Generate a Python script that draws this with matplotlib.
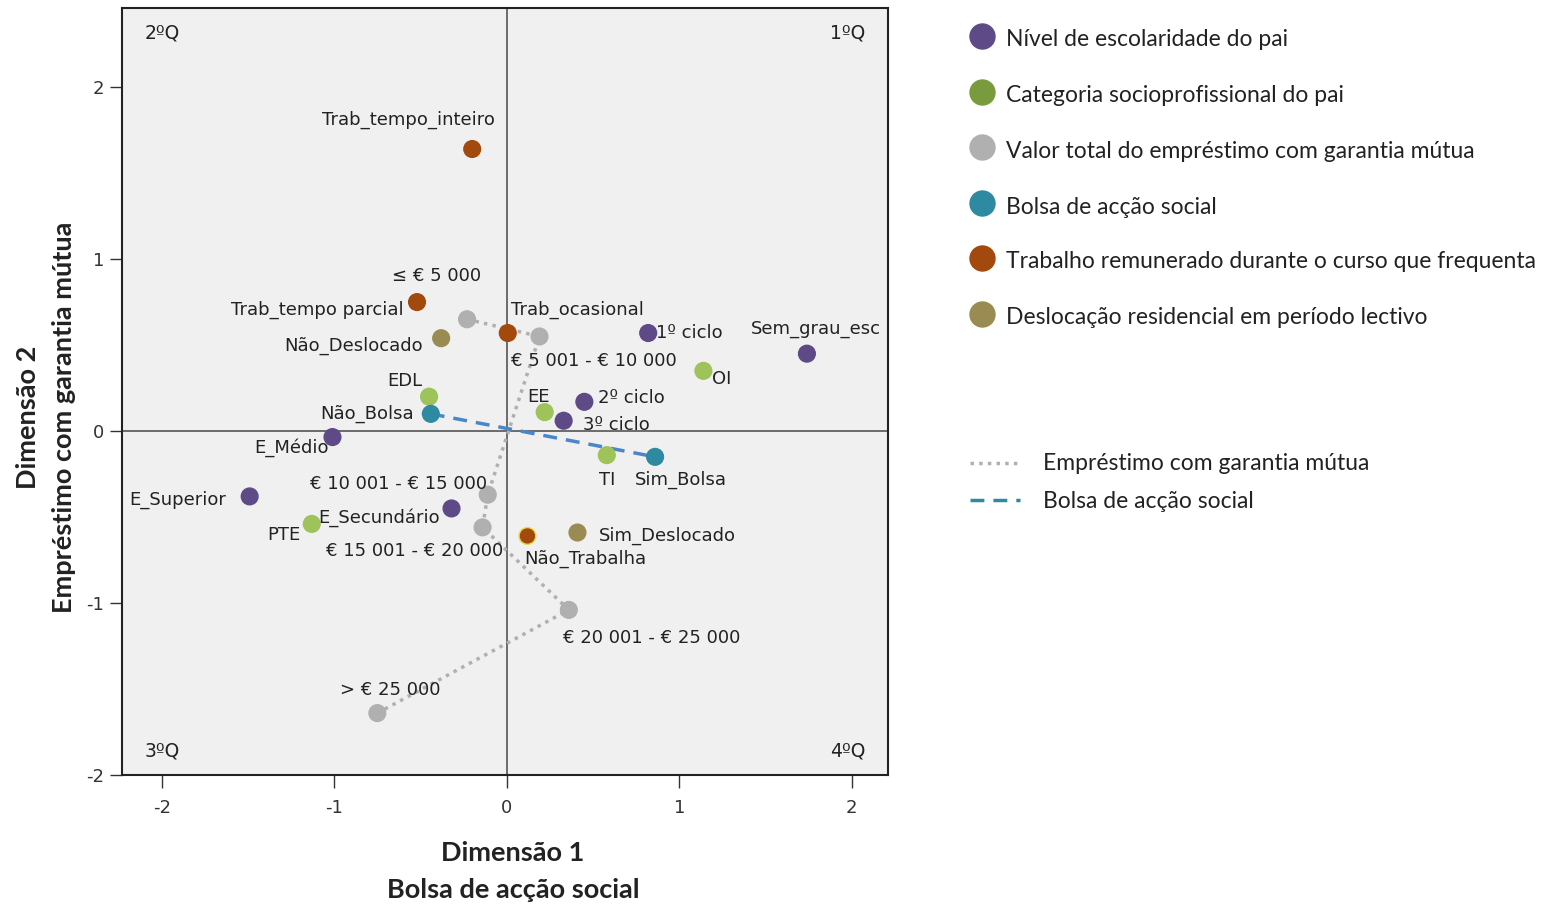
import matplotlib
matplotlib.use("Agg")
import matplotlib.pyplot as plt
from matplotlib.lines import Line2D

plt.rcParams["axes.unicode_minus"] = False

# --- dados (coordenadas das categorias) ---
esc_nomes = ["1º ciclo", "2º ciclo", "3º ciclo", "E_Secundário", "E_Médio", "E_Superior", "Sem_grau_esc"]
esc_x = [0.82, 0.45, 0.33, -0.32, -1.01, -1.49, 1.74]
esc_y = [0.57, 0.17, 0.06, -0.45, -0.035, -0.38, 0.45]

cat_nomes = ["OI", "EDL", "EE", "TI", "PTE"]
cat_x = [1.14, -0.45, 0.22, 0.58, -1.13]
cat_y = [0.35, 0.20, 0.11, -0.14, -0.54]

emp_nomes = ["≤ € 5 000", "€ 5 001 - € 10 000", "€ 10 001 - € 15 000",
             "€ 15 001 - € 20 000", "€ 20 001 - € 25 000", "> € 25 000"]
emp_x = [-0.23, 0.19, -0.11, -0.14, 0.36, -0.75]
emp_y = [0.65, 0.55, -0.37, -0.56, -1.04, -1.64]

bol_nomes = ["Não_Bolsa", "Sim_Bolsa"]
bol_x = [-0.44, 0.86]
bol_y = [0.10, -0.15]

trab_nomes = ["Trab_tempo_inteiro", "Trab_tempo parcial", "Trab_ocasional", "Não_Trabalha"]
trab_x = [-0.20, -0.52, 0.006, 0.12]
trab_y = [1.64, 0.75, 0.57, -0.61]

desl_nomes = ["Não_Deslocado", "Sim_Deslocado"]
desl_x = [-0.38, 0.41]
desl_y = [0.54, -0.59]

legenda_grupos = ["Nível de escolaridade do pai", "Categoria socioprofissional do pai",
                  "Valor total do empréstimo com garantia mútua", "Bolsa de acção social",
                  "Trabalho remunerado durante o curso que frequenta",
                  "Deslocação residencial em período lectivo"]
legenda_linhas = ["Empréstimo com garantia mútua", "Bolsa de acção social"]

# --- estilo ---
C_ESC = "#5E4A86"
C_CAT = "#9DC35A"
C_CAT_LEG = "#7A9A3E"
C_EMP = "#B0B0B0"
C_BOL = "#2E8AA0"
C_TRAB = "#A2490E"
C_DESL = "#9A8B53"
C_DASH = "#4A86C8"

# deslocamento das etiquetas (pixels) e alinhamento
etq = {
    "Trab_tempo_inteiro": (-64, 29, "center"),
    "≤ € 5 000": (-30, 43, "center"),
    "Trab_tempo parcial": (-13, -8, "right"),
    "Não_Deslocado": (-18, -8, "right"),
    "EDL": (-7, 16, "right"),
    "Não_Bolsa": (-17, 0, "right"),
    "E_Médio": (-4, -11, "right"),
    "E_Superior": (-24, -3, "right"),
    "€ 10 001 - € 15 000": (-1, 11, "right"),
    "E_Secundário": (-12, -9, "right"),
    "PTE": (-11, -11, "right"),
    "€ 15 001 - € 20 000": (21, -24, "right"),
    "Trab_ocasional": (3, 23, "left"),
    "€ 5 001 - € 10 000": (-29, -25, "left"),
    "1º ciclo": (8, 0, "left"),
    "Sem_grau_esc": (9, 25, "center"),
    "OI": (9, -8, "left"),
    "EE": (-6, 15, "center"),
    "2º ciclo": (14, 4, "left"),
    "3º ciclo": (19, -4, "left"),
    "TI": (0, -25, "center"),
    "Sim_Bolsa": (26, -23, "center"),
    "Sim_Deslocado": (21, -3, "left"),
    "Não_Trabalha": (-3, -23, "left"),
    "€ 20 001 - € 25 000": (-6, -28, "left"),
    "> € 25 000": (13, 23, "center"),
}

W, H = 1543, 907
fig = plt.figure(figsize=(W / 100, H / 100), dpi=100)
ax = fig.add_axes([122 / W, 1 - 775 / H, 766 / W, 767 / H])
ax.set_facecolor("#F0F0F0")
ax.set_xlim(-2.23, 2.21)
ax.set_ylim(-2.0, 2.46)

ax.axhline(0, color="#555555", lw=1.2, zorder=1)
ax.axvline(0, color="#555555", lw=1.2, zorder=1)

# linhas de ligação
ax.plot(emp_x, emp_y, color=C_EMP, lw=2.5, ls=(0, (1, 1.5)), zorder=2)
ax.plot(bol_x, bol_y, color=C_DASH, lw=2.5, ls=(0, (4, 2.6)), zorder=2)

grupos = [
    (esc_nomes, esc_x, esc_y, C_ESC),
    (cat_nomes, cat_x, cat_y, C_CAT),
    (emp_nomes, emp_x, emp_y, C_EMP),
    (bol_nomes, bol_x, bol_y, C_BOL),
    (trab_nomes, trab_x, trab_y, C_TRAB),
    (desl_nomes, desl_x, desl_y, C_DESL),
]
for nomes, xs, ys, cor in grupos:
    bordas = ["#E8D84A" if n == "Não_Trabalha" else cor for n in nomes]
    ax.scatter(xs, ys, s=145, color=cor, edgecolors=bordas, linewidths=1.0, zorder=3)
    for n, x, y in zip(nomes, xs, ys):
        dx, dy, ha = etq[n]
        ax.annotate(n, (x, y), xytext=(dx, dy), textcoords="offset pixels",
                    ha=ha, va="center", fontsize=13, color="#222222", zorder=4)

# quadrantes
for txt, xq, yq, ha, va in [("2ºQ", 0.03, 0.967, "left", "center"),
                            ("1ºQ", 0.97, 0.967, "right", "center"),
                            ("3ºQ", 0.03, 0.031, "left", "center"),
                            ("4ºQ", 0.97, 0.031, "right", "center")]:
    ax.text(xq, yq, txt, transform=ax.transAxes, ha=ha, va=va, fontsize=13.5, color="#222222")

ax.set_xticks([-2, -1, 0, 1, 2])
ax.set_yticks([-2, -1, 0, 1, 2])
ax.tick_params(length=9, width=1, color="#333333", labelsize=13, labelcolor="#333333", pad=4)
ax.tick_params(axis="x", pad=8)
for sp in ax.spines.values():
    sp.set_linewidth(1.5)
    sp.set_color("#222222")

# títulos dos eixos
kw = dict(ha="center", va="center", fontsize=19.5, fontweight="bold", family="Lato", color="#222222")
fig.text(513 / W, 1 - 853 / H, "Dimensão 1", **kw)
fig.text(513 / W, 1 - 890 / H, "Bolsa de acção social", **kw)
fig.text(28 / W, 1 - 417 / H, "Dimensão 2", rotation=90, **kw)
fig.text(64 / W, 1 - 417 / H, "Empréstimo com garantia mútua", rotation=90, **kw)

# legenda (desenhada à mão para acertar posições)
cores_leg = [C_ESC, C_CAT_LEG, C_EMP, C_BOL, C_TRAB, C_DESL]
ys_leg = [36, 92, 147, 203, 258, 314]
for txt, cor, yl in zip(legenda_grupos, cores_leg, ys_leg):
    fig.add_artist(Line2D([982 / W], [1 - yl / H], marker="o", markersize=18,
                          color=cor, transform=fig.transFigure))
    fig.text(1006 / W, 1 - (yl + 4) / H, txt, ha="left", va="center",
             fontsize=16.5, family="Lato", color="#222222")

estilos = [(C_EMP, (0, (1, 1.5))), (C_BOL, (0, (4, 2.6)))]
for txt, (cor, ls), yl in zip(legenda_linhas, estilos, [463, 500]):
    fig.add_artist(Line2D([970 / W, 1020 / W], [1 - yl / H] * 2, color=cor, lw=2.5, ls=ls,
                          transform=fig.transFigure))
    fig.text(1043 / W, 1 - (yl + 1) / H, txt, ha="left", va="center",
             fontsize=16.5, family="Lato", color="#222222")

fig.savefig("out.png", dpi=100, facecolor="white")
